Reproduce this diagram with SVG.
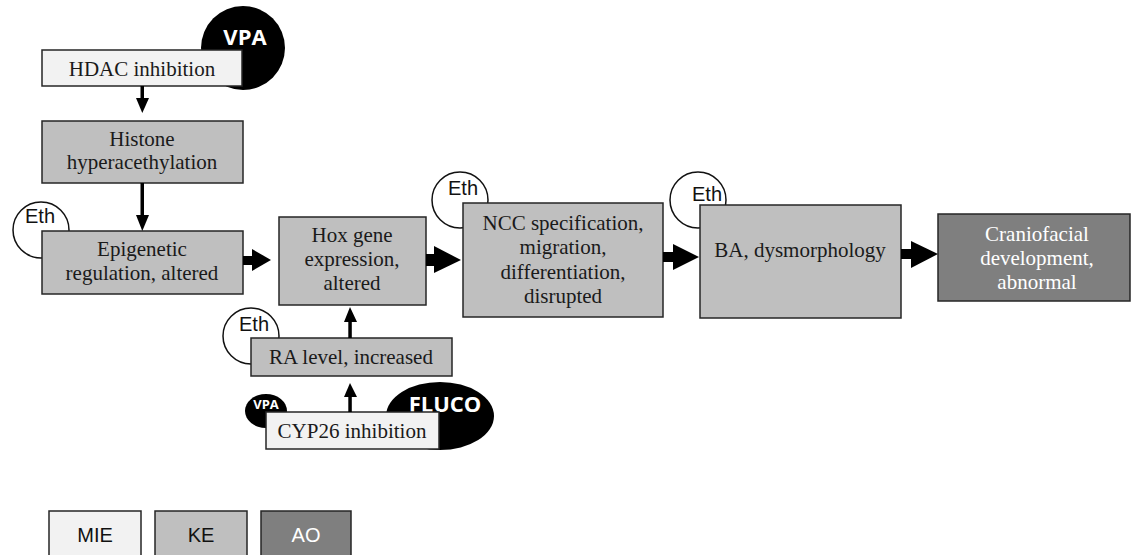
<svg xmlns="http://www.w3.org/2000/svg" width="1131" height="555" viewBox="0 0 1131 555">
<style>
.box{stroke:#262626;stroke-width:1.5}
.mie{fill:#f2f2f2}
.ke{fill:#bfbfbf}
.ao{fill:#7f7f7f}
.t{font-family:"Liberation Serif","Times New Roman",serif;font-size:21px;fill:#1a1a1a;text-anchor:middle}
.tw{fill:#ffffff}
.eth{fill:#ffffff;stroke:#111;stroke-width:1.5}
.s{font-family:"Liberation Sans",Arial,sans-serif;font-size:20px;fill:#111;text-anchor:middle}
.chem{font-family:"Open Sans","Liberation Sans",Arial,sans-serif;font-weight:bold;fill:#ffffff;text-anchor:middle}
.ar{fill:#000}
</style>
<rect width="1131" height="555" fill="#ffffff"/>

<g id="hdac">
<circle cx="243" cy="48" r="42" fill="#000"/>
<text class="chem" x="245" y="45" font-size="22">VPA</text>
<rect class="box mie" x="42" y="50" width="200" height="36"/>
<text class="t" x="142" y="76">HDAC inhibition</text>
</g>

<g id="histone">
<rect class="box ke" x="42" y="121" width="201" height="62"/>
<text class="t" x="142" y="146">Histone</text>
<text class="t" x="142" y="169">hyperacethylation</text>
</g>

<g id="epigenetic">
<circle class="eth" cx="41" cy="230" r="28"/>
<text class="s" x="40" y="223">Eth</text>
<rect class="box ke" x="42" y="231" width="201" height="63"/>
<text class="t" x="142" y="256">Epigenetic</text>
<text class="t" x="142" y="280">regulation, altered</text>
</g>

<g id="hox">
<rect class="box ke" x="279" y="217" width="147" height="88"/>
<text class="t" x="352" y="242">Hox gene</text>
<text class="t" x="352" y="266">expression,</text>
<text class="t" x="352" y="290">altered</text>
</g>

<g id="ncc">
<circle class="eth" cx="460" cy="200" r="28"/>
<text class="s" x="463" y="195">Eth</text>
<rect class="box ke" x="463" y="203" width="200" height="114"/>
<text class="t" x="563" y="230">NCC specification,</text>
<text class="t" x="563" y="254">migration,</text>
<text class="t" x="563" y="279">differentiation,</text>
<text class="t" x="563" y="303">disrupted</text>
</g>

<g id="ba">
<circle class="eth" cx="698" cy="200" r="28"/>
<text class="s" x="707" y="201">Eth</text>
<rect class="box ke" x="700" y="205" width="201" height="113"/>
<text class="t" x="800" y="257">BA, dysmorphology</text>
</g>

<g id="cranio">
<rect class="box ao" x="938" y="214" width="192" height="87"/>
<text class="t tw" x="1037" y="241">Craniofacial</text>
<text class="t tw" x="1037" y="265">development,</text>
<text class="t tw" x="1037" y="289">abnormal</text>
</g>

<g id="ra">
<circle class="eth" cx="251" cy="336" r="28"/>
<text class="s" x="254" y="331">Eth</text>
<rect class="box ke" x="251" y="338" width="201" height="38"/>
<text class="t" x="351" y="364">RA level, increased</text>
</g>

<g id="cyp26">
<ellipse cx="440" cy="416" rx="54" ry="34" fill="#000"/>
<text class="chem" x="445" y="412" font-size="22">FLUCO</text>
<ellipse cx="266" cy="411" rx="21" ry="17" fill="#000"/>
<text class="chem" x="266" y="409" font-size="13">VPA</text>
<rect class="box mie" x="266" y="412" width="173" height="37"/>
<text class="t" x="352" y="438">CYP26 inhibition</text>
</g>

<g id="connectors">
<rect class="ar" x="140.5" y="86" width="3.5" height="13"/>
<polygon class="ar" points="136,98 149,98 142.3,113"/>
<rect class="ar" x="140.5" y="183" width="3.5" height="33"/>
<polygon class="ar" points="136,215 149,215 142.3,231"/>
<rect class="ar" x="243" y="256" width="10" height="9"/>
<polygon class="ar" points="252,249 252,271 271,260"/>
<rect class="ar" x="426" y="254" width="9" height="12"/>
<polygon class="ar" points="434,246 434,273 461,260"/>
<rect class="ar" x="663" y="252" width="11" height="10"/>
<polygon class="ar" points="673,244 673,270 699,257"/>
<rect class="ar" x="901" y="249" width="11" height="10"/>
<polygon class="ar" points="911,241 911,268 938,254"/>
<rect class="ar" x="348.3" y="321" width="3.5" height="17"/>
<polygon class="ar" points="344,322 357,322 350,307"/>
<rect class="ar" x="348.3" y="396" width="3.5" height="16"/>
<polygon class="ar" points="344,397 357,397 350,383"/>
</g>

<g id="legend">
<rect class="box mie" x="49" y="511" width="92" height="50"/>
<text class="s" x="95" y="542" font-size="23">MIE</text>
<rect class="box ke" x="155" y="511" width="92" height="50"/>
<text class="s" x="201" y="542" font-size="23">KE</text>
<rect class="box ao" x="261" y="511" width="90" height="50"/>
<text class="s" x="306" y="542" font-size="23" style="fill:#fff">AO</text>
</g>
</svg>
